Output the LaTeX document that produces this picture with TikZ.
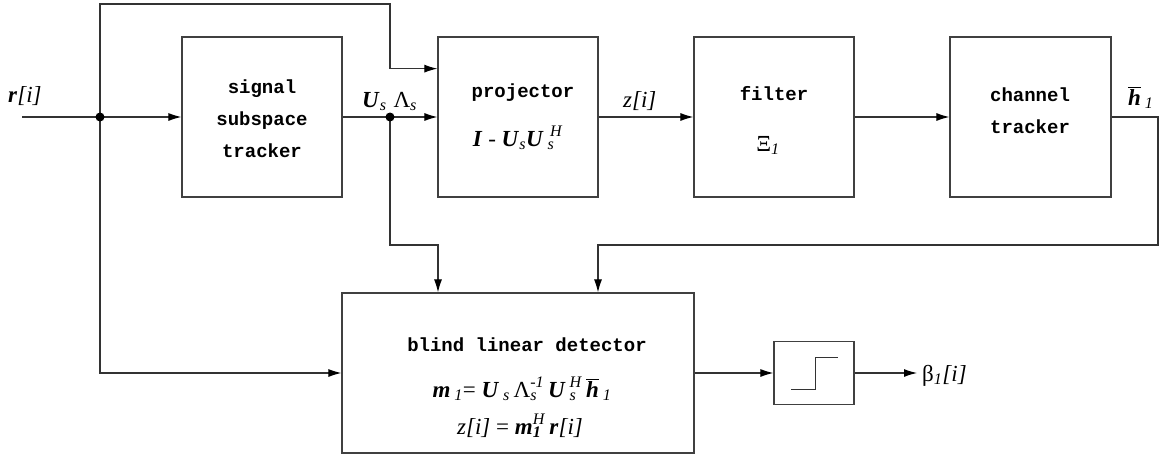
\documentclass[tikz,border=0pt]{standalone}
\usepackage{fontspec}
\setmainfont{Liberation Serif}
\setmonofont{Liberation Mono}
\usetikzlibrary{arrows.meta,calc}
% bold italic symbol, italic sub/superscripts, stacked sub/superscript, barred h
\newcommand\bi[1]{\textbf{\textit{#1}}}
\newcommand\lowi[1]{\textsubscript{\textit{#1}}}
\newcommand\highi[1]{\textsuperscript{\textit{#1}}}
\newcommand\sbsp[2]{\leavevmode\setbox0\hbox{\textsubscript{\textit{#1}}}\setbox2\hbox{\textsuperscript{\textit{#2}}}%
  \ifdim\wd0>\wd2 \rlap{\box2}\box0\else\rlap{\box0}\box2\fi}
\newcommand\barh{\ensuremath{\overline{\hbox{\bi{h}}}}}
\begin{document}
\begin{tikzpicture}[x=1pt,y=-1pt,
  blk/.style={draw=black!75, line width=1.2pt, minimum width=160pt, minimum height=160pt, inner sep=0pt},
  lbl/.style={font=\ttfamily\bfseries\fontsize{19}{19}\selectfont, inner sep=0pt, anchor=base},
  eq/.style={font=\fontsize{23}{23}\selectfont, inner sep=0pt, anchor=base},
  wire/.style={draw=black!80, line width=1.1pt},
  flow/.style={wire, -{Latex[length=13pt,width=8pt,black]}},
  dot/.style={circle, fill=black, inner sep=0pt, minimum size=9pt}]
\useasboundingbox (0,0) rectangle (1159,455);

% blocks
\node[blk] (sst) at (262,117) {};
\node[blk] (proj) at (518,117) {};
\node[blk] (filt) at (774,117) {};
\node[blk, minimum width=161pt] (chan) at (1030.5,117) {};
\node[blk, minimum width=352pt] (det) at (518,373) {};
\node[blk, minimum width=80pt, minimum height=63pt] (thr) at (814,373) {};

% block texts
\node[lbl] (sst1) at (262,93) {signal};
\node[lbl] (sst2) at (262,125) {subspace};
\node[lbl] (sst3) at (262,157) {tracker};
\node[lbl] (proj1) at (523,97) {projector};
\node[eq] (proj2) at (518,146) {\bi{I} - \bi{U}\lowi{s}\bi{U}\,\sbsp{s}{\,H}};
\node[lbl] (filt1) at (774,100) {filter};
\node[eq] (filt2) at (768,151) {Ξ\lowi{1}};
\node[lbl] (chan1) at (1030,101) {channel};
\node[lbl] (chan2) at (1030,133) {tracker};
\node[lbl] (det1) at (527,351) {blind linear detector};
\node[eq] (det2) at (522,397) {\bi{m}\,\lowi{1}= \bi{U}\,\lowi{s}\,Λ\sbsp{s}{-1}\,\bi{U}\,\sbsp{s}{H}\,\barh\,\lowi{1}};
\node[eq] (det3) at (520,434) {\textit{z[i]} = \bi{m}\sbsp{\textbf{1}}{H}\,\bi{r}\textit{[i]}};

% signal labels
\node[eq, anchor=base west] (rin) at (8,102) {\bi{r}\textit{[i]}};
\node[eq, anchor=base west] (ul) at (362,107) {\bi{U}\lowi{s}\hspace{7pt}Λ\lowi{s}};
\node[eq, anchor=base west] (zl) at (623,107) {\textit{z[i]}};
\node[eq, anchor=base west] (hl) at (1128,105) {\barh\,\lowi{1}};

% step characteristic of the decision device
\draw[wire, line width=0.9pt] ($(thr.center)+(-23,16)$) -- ++(24,0) -- ++(0,-32) -- ++(23,0);

% connectors
\coordinate (in) at (22,117);
\coordinate (j1) at (100,117);
\coordinate (j2) at (390,117);
\coordinate (top) at (390,4);
\coordinate (pin) at ($(proj.north west)!0.2!(proj.south west)$);
\coordinate (k1) at (438,245);
\coordinate (e1) at (1158,117);
\coordinate (k2) at (598,245);
\coordinate (out) at (917,373);

\draw[flow] (in) -- (sst.west);
\draw[flow] (j1) |- (top) |- (pin);
\draw[flow] (j1) |- (det.west);
\draw[flow] (sst.east) -- (proj.west);
\draw[flow] (j2) |- (k1) -- (k1 |- det.north);
\draw[flow] (proj.east) -- (filt.west);
\draw[flow] (filt.east) -- (chan.west);
\draw[flow] (chan.east) -- (e1) |- (k2) -- (k2 |- det.north);
\draw[flow] (det.east) -- (thr.west);
\draw[flow] (thr.east) -- (out);
\node[eq, anchor=base west] (beta) at (922,381) {β\lowi{1}\textit{[i]}};

% junction dots
\node[dot] (d1) at (j1) {};
\node[dot] (d2) at (j2) {};
\end{tikzpicture}
\end{document}
